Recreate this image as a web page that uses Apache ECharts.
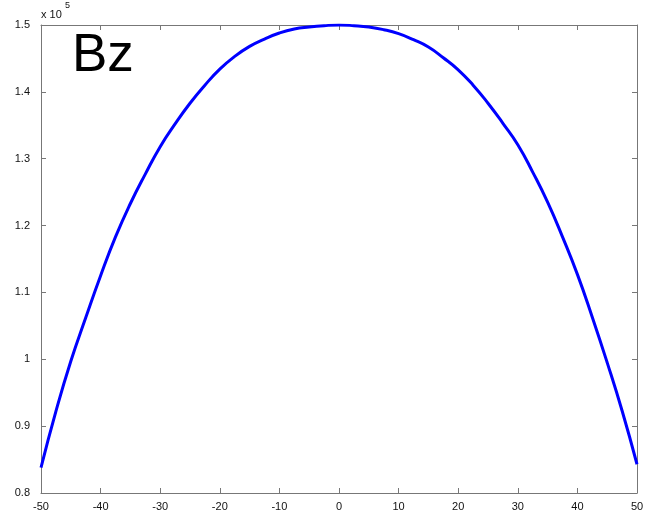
<!DOCTYPE html>
<html>
<head>
<meta charset="utf-8">
<script src="https://cdn.jsdelivr.net/npm/echarts@6/dist/echarts.min.js"></script>
<style>
  html, body { margin: 0; padding: 0; background: #fff; }
  #bzChart { width: 652px; height: 516px; }
</style>
</head>
<body>
<div id="bzChart"></div>
<script>
// position along axis, step 2.5
var zPos = [-50, -47.5, -45, -42.5, -40, -37.5, -35, -32.5, -30, -27.5, -25, -22.5, -20, -17.5, -15, -12.5, -10, -7.5, -5, -2.5,
            0, 2.5, 5, 7.5, 10, 12.5, 15, 17.5, 20, 22.5, 25, 27.5, 30, 32.5, 35, 37.5, 40, 42.5, 45, 47.5, 50];
// Bz in units of 1e5
var bzVals = [0.838, 0.922, 0.997, 1.062, 1.125, 1.183, 1.233, 1.277, 1.318, 1.352, 1.383, 1.410, 1.434, 1.453, 1.468, 1.479, 1.488, 1.494, 1.497, 1.499,
              1.500, 1.499, 1.497, 1.493, 1.487, 1.478, 1.467, 1.451, 1.433, 1.410, 1.383, 1.353, 1.321, 1.280, 1.235, 1.183, 1.127, 1.063, 0.995, 0.923, 0.843];
var xTicks = [-50, -40, -30, -20, -10, 0, 10, 20, 30, 40, 50];
var yTicks = [0.8, 0.9, 1, 1.1, 1.2, 1.3, 1.4, 1.5];

var axisGray = '#777';
var labelFont = { color: '#111', fontSize: 11, fontFamily: 'Liberation Sans, Arial, sans-serif' };

function fmt(v) {
    return String(Math.round(v * 10) / 10);
}

var pts = zPos.map(function (z, i) { return [z, bzVals[i]]; });

var chart = echarts.init(document.getElementById('bzChart'));
chart.setOption({
    animation: false,
    backgroundColor: '#fff',
    grid: { left: 41, right: 15, top: 25, bottom: 23, containLabel: false },
    xAxis: [{
        type: 'value', min: -50, max: 50, interval: 10, position: 'bottom',
        axisLine: { onZero: false, lineStyle: { color: axisGray, width: 1 } },
        axisTick: { inside: true, length: 5, lineStyle: { color: axisGray } },
        axisLabel: Object.assign({ margin: 8, formatter: fmt }, labelFont),
        splitLine: { show: false }
    }, {
        type: 'value', min: -50, max: 50, interval: 10, position: 'top',
        axisLine: { onZero: false, lineStyle: { color: axisGray, width: 1 } },
        axisTick: { inside: true, length: 5, lineStyle: { color: axisGray } },
        axisLabel: { show: false },
        splitLine: { show: false }
    }],
    yAxis: [{
        type: 'value', min: 0.8, max: 1.5, interval: 0.1, position: 'left',
        axisLine: { show: true, onZero: false, lineStyle: { color: axisGray, width: 1 } },
        axisTick: { show: true, inside: true, length: 5, lineStyle: { color: axisGray } },
        axisLabel: Object.assign({ margin: 11, formatter: fmt }, labelFont),
        splitLine: { show: false }
    }, {
        type: 'value', min: 0.8, max: 1.5, interval: 0.1, position: 'right',
        axisLine: { show: true, onZero: false, lineStyle: { color: axisGray, width: 1 } },
        axisTick: { show: true, inside: true, length: 5, lineStyle: { color: axisGray } },
        axisLabel: { show: false },
        splitLine: { show: false }
    }],
    graphic: [
        { type: 'text', left: 41, top: 9,
          style: { text: 'x 10', fill: '#111', font: '11px Liberation Sans, Arial, sans-serif' } },
        { type: 'text', left: 65, top: 1,
          style: { text: '5', fill: '#111', font: '9px Liberation Sans, Arial, sans-serif' } },
        { type: 'text', left: 72, top: 30,
          style: { text: 'Bz', fill: '#000', font: '53px Liberation Sans, Arial, sans-serif' } }
    ],
    series: [{
        type: 'line',
        data: pts,
        smooth: 0.5,
        showSymbol: false,
        lineStyle: { color: '#0000ff', width: 3 }
    }]
});
</script>
</body>
</html>
